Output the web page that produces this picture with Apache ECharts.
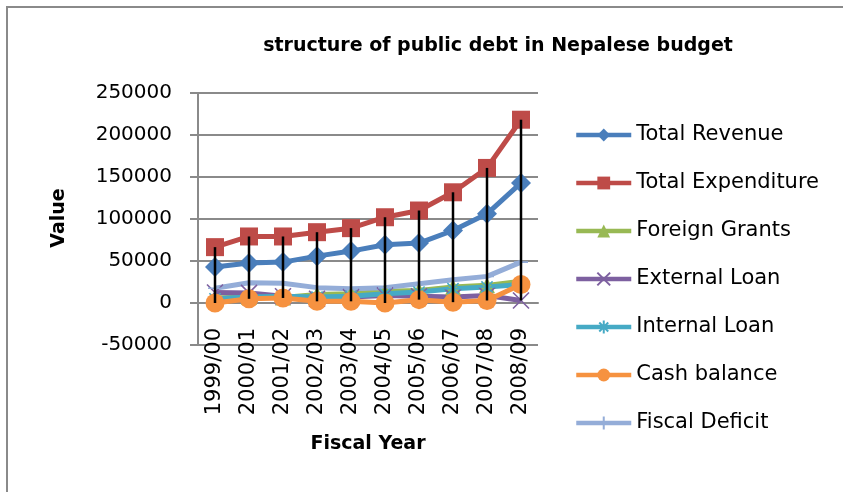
<!DOCTYPE html>
<html>
<head>
<meta charset="utf-8">
<script src="https://cdn.jsdelivr.net/npm/echarts@6/dist/echarts.min.js"></script>
<style>
  html, body { margin: 0; padding: 0; background: #ffffff; }
  #chart { width: 843px; height: 492px; }
</style>
</head>
<body>
<div id="chart"></div>
<script>
// Fiscal years on the category axis
const categories = ['1999/00', '2000/01', '2001/02', '2002/03', '2003/04', '2004/05', '2005/06', '2006/07', '2007/08', '2008/09'];

// Budget figures per fiscal year
const totalRevenue     = [42800, 47500, 48700, 55800, 61800, 69300, 71300, 86300, 106200, 143000];
const totalExpenditure = [66500, 79200, 79200, 84300, 89100, 102100, 110100, 131800, 160800, 218200];
const foreignGrants    = [6000, 7000, 6500, 10000, 11000, 14000, 15000, 19000, 21000, 26000];
const externalLoan     = [12500, 12000, 8000, 5000, 7000, 9000, 8000, 7000, 9000, 3000];
const internalLoan     = [5000, 7000, 8000, 7000, 8000, 11000, 13000, 17000, 19000, 22000];
const cashBalance      = [0, 5000, 6000, 2000, 2000, 0, 4000, 1000, 3000, 22000];
const fiscalDeficit    = [17500, 24000, 23500, 18300, 17000, 18300, 23000, 27800, 31700, 48700];

// Value axis ticks
const yTicks = [-50000, 0, 50000, 100000, 150000, 200000, 250000];

const seriesDefs = [
  { name: 'Total Revenue',     data: totalRevenue,     color: '#4A7EBB', symbol: 'diamond', size: 20 },
  { name: 'Total Expenditure', data: totalExpenditure, color: '#BE4B48', symbol: 'rect',    size: 18 },
  { name: 'Foreign Grants',    data: foreignGrants,    color: '#98B954', symbol: 'triangle', size: 16 },
  { name: 'External Loan',     data: externalLoan,     color: '#7D60A0', symbol: 'path://M0,0 L10,10 M10,0 L0,10', size: 16, stroked: true },
  { name: 'Internal Loan',     data: internalLoan,     color: '#46AAC5', symbol: 'path://M5,0 L5,10 M0,5 L10,5 M1.5,1.5 L8.5,8.5 M8.5,1.5 L1.5,8.5', size: 16, stroked: true },
  { name: 'Cash balance',      data: cashBalance,      color: '#F69240', symbol: 'circle',  size: 19 },
  { name: 'Fiscal Deficit',    data: fiscalDeficit,    color: '#94ADD8', symbol: 'path://M5,0 L5,10 M0,5 L10,5', size: 14, stroked: true }
];

const allSeries = seriesDefs.map(d => d.data);
// High-low span per category: [index, highest, lowest]
const hiLo = categories.map((c, i) => {
  const vals = allSeries.map(s => s[i]);
  return [i, Math.max.apply(null, vals), Math.min.apply(null, vals)];
});

const axisFont = 'DejaVu Sans';
const gridColor = '#8a8a8a';

// Plot box (pixels) and the distance of the zero line above its bottom edge
const plotTop = 93, plotBottom = 345;
const zeroOffset = (plotBottom - plotTop) * (0 - yTicks[0]) / (yTicks[yTicks.length - 1] - yTicks[0]);

const lineSeries = seriesDefs.map(d => ({
  name: d.name,
  type: 'line',
  data: d.data,
  symbol: d.symbol,
  symbolSize: d.size,
  showAllSymbol: true,
  lineStyle: { color: d.color, width: 5 },
  itemStyle: d.stroked
    ? { color: d.color, borderColor: d.color, borderWidth: 1.6 }
    : { color: d.color, borderColor: d.color, borderWidth: 0 },
  emphasis: { disabled: true },
  animation: false
}));

const hiLoSeries = {
  type: 'custom',
  name: 'hilo',
  data: hiLo,
  z: 10,
  silent: true,
  animation: false,
  renderItem: function (params, api) {
    const top = api.coord([api.value(0), api.value(1)]);
    const bottom = api.coord([api.value(0), api.value(2)]);
    return {
      type: 'line',
      shape: { x1: top[0], y1: top[1], x2: bottom[0], y2: bottom[1] },
      style: { stroke: '#000000', lineWidth: 2.5 }
    };
  }
};

const chart = echarts.init(document.getElementById('chart'), null, { renderer: 'canvas' });

chart.setOption({
  backgroundColor: '#ffffff',
  animation: false,
  graphic: [
    {
      type: 'rect',
      shape: { x: 7, y: 7, width: 900, height: 600 },
      style: { fill: 'none', stroke: '#8a8a8a', lineWidth: 2 },
      silent: true
    },
    {
      type: 'text',
      x: 498, y: 46,
      style: {
        text: 'structure of public debt in Nepalese budget',
        font: 'bold 19px "DejaVu Sans"',
        fill: '#000000',
        align: 'center',
        verticalAlign: 'middle'
      }
    },
    {
      type: 'text',
      x: 368, y: 444,
      style: {
        text: 'Fiscal Year',
        font: 'bold 19px "DejaVu Sans"',
        fill: '#000000',
        align: 'center',
        verticalAlign: 'middle'
      }
    },
    {
      type: 'text',
      x: 59, y: 218,
      rotation: Math.PI / 2,
      style: {
        text: 'Value',
        font: 'bold 19px "DejaVu Sans"',
        fill: '#000000',
        align: 'center',
        verticalAlign: 'middle'
      }
    }
  ],
  legend: {
    orient: 'vertical',
    left: 574,
    top: 123,
    padding: 0,
    itemWidth: 55,
    itemHeight: 16,
    itemGap: 24,
    data: seriesDefs.map(d => d.name),
    lineStyle: { width: 4.5 },
    textStyle: { fontFamily: axisFont, fontSize: 21, color: '#000000', lineHeight: 24 },
    selectedMode: false
  },
  grid: { left: 198, right: 305, top: plotTop, bottom: 492 - plotBottom, containLabel: false },
  xAxis: {
    type: 'category',
    data: categories,
    boundaryGap: true,
    offset: -zeroOffset,
    axisLine: { show: true, onZero: false, lineStyle: { color: gridColor, width: 2 } },
    axisTick: { show: false },
    axisLabel: {
      rotate: 90,
      margin: 25,
      fontFamily: axisFont,
      fontSize: 21,
      color: '#000000'
    },
    splitLine: { show: false }
  },
  yAxis: {
    type: 'value',
    min: yTicks[0],
    max: yTicks[yTicks.length - 1],
    interval: yTicks[1] - yTicks[0],
    axisLine: { show: true, lineStyle: { color: gridColor, width: 2 } },
    axisTick: { show: true, inside: false, length: 8, lineStyle: { color: gridColor, width: 2 } },
    axisLabel: {
      margin: 26,
      fontFamily: axisFont,
      fontSize: 20,
      color: '#000000',
      formatter: function (v) { return String(v); }
    },
    splitLine: { show: true, lineStyle: { color: gridColor, width: 2 } }
  },
  series: lineSeries.concat([hiLoSeries])
});
</script>
</body>
</html>
